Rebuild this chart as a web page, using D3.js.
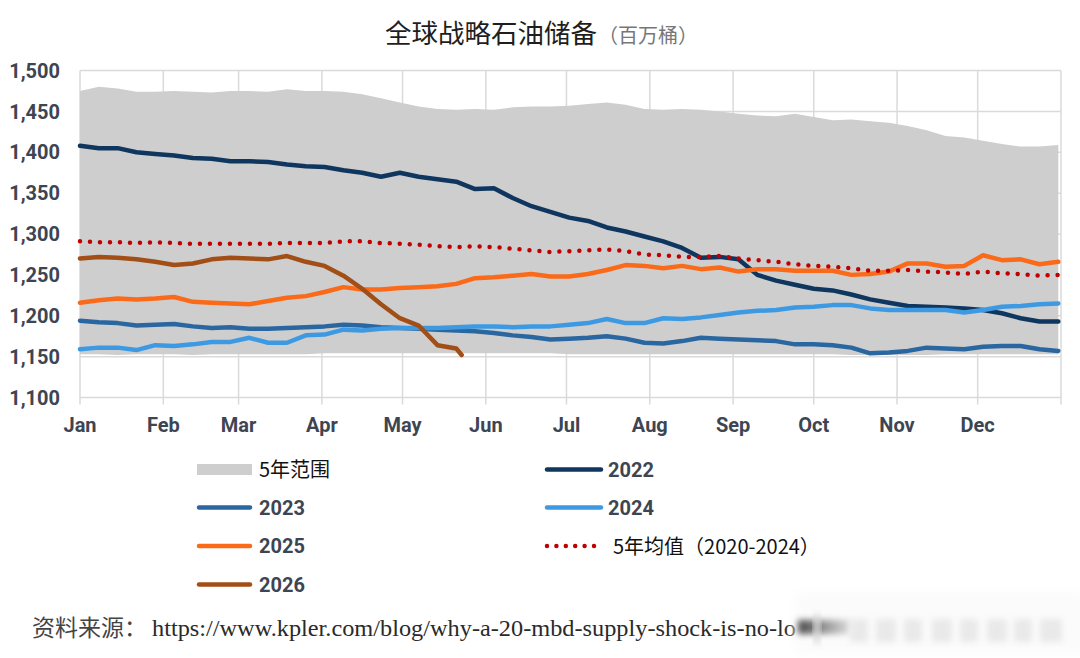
<!DOCTYPE html>
<html>
<head>
<meta charset="utf-8">
<script src="https://cdn.jsdelivr.net/npm/d3@7"></script>
<style>
  html, body { margin: 0; padding: 0; background: #fff; }
  svg { display: block; }
</style>
</head>
<body>
<div id="chart"></div>
<script>
// weekly samples, day-of-year 0,7,...,364
const weekDays = d3.range(0, 365, 7);

const rangeUpper = [1475, 1480, 1478, 1474, 1474, 1475, 1474, 1473, 1475, 1475,
  1474, 1477, 1475, 1475, 1474, 1471, 1466, 1461, 1456, 1453,
  1452, 1453, 1452, 1455, 1456, 1456, 1457, 1459, 1461, 1458,
  1453, 1452, 1453, 1452, 1450, 1447, 1445, 1444, 1447, 1443,
  1439, 1440, 1438, 1436, 1432, 1427, 1420, 1418, 1414, 1410,
  1407, 1407, 1409];
const rangeLower = [1153, 1153, 1152, 1153, 1153, 1153, 1152, 1153, 1153, 1153,
  1153, 1153, 1153, 1154, 1154, 1154, 1154, 1154, 1154, 1154,
  1154, 1154, 1154, 1154, 1154, 1154, 1153, 1153, 1153, 1153,
  1153, 1153, 1153, 1153, 1153, 1153, 1153, 1153, 1153, 1153,
  1153, 1152, 1152, 1152, 1152, 1152, 1153, 1153, 1153, 1153,
  1153, 1153, 1153];

const y2022 = [1408, 1405, 1405, 1400, 1398, 1396, 1393, 1392, 1389, 1389,
  1388, 1385, 1383, 1382, 1378, 1375, 1370, 1375, 1370, 1367,
  1364, 1355, 1356, 1344, 1334, 1327, 1320, 1316, 1308, 1303,
  1297, 1291, 1283, 1271, 1272, 1269, 1250, 1243, 1238, 1233,
  1231, 1226, 1220, 1216, 1212, 1211, 1210, 1209, 1207, 1203,
  1197, 1193, 1193];
const y2023 = [1194, 1192, 1191, 1188, 1189, 1190, 1187, 1185, 1186, 1184,
  1184, 1185, 1186, 1187, 1189, 1188, 1186, 1185, 1184, 1183,
  1182, 1181, 1179, 1176, 1174, 1171, 1172, 1173, 1175, 1172,
  1167, 1166, 1169, 1173, 1172, 1171, 1170, 1169, 1165, 1165,
  1164, 1161, 1154, 1155, 1157, 1161, 1160, 1159, 1162, 1163,
  1163, 1159, 1157];
const y2024 = [1159, 1161, 1161, 1158, 1164, 1163, 1165, 1168, 1168, 1173,
  1167, 1167, 1176, 1177, 1183, 1182, 1184, 1185, 1185, 1185,
  1186, 1187, 1187, 1186, 1187, 1187, 1189, 1191, 1196, 1191,
  1191, 1197, 1196, 1198, 1201, 1204, 1206, 1207, 1210, 1211,
  1213, 1213, 1209, 1207, 1207, 1207, 1207, 1204, 1207, 1211,
  1212, 1214, 1215];
const y2025 = [1216, 1219, 1221, 1220, 1221, 1223, 1217, 1216, 1215, 1214,
  1218, 1222, 1224, 1229, 1235, 1232, 1232, 1234, 1235, 1236,
  1239, 1246, 1247, 1249, 1251, 1248, 1248, 1251, 1256, 1262,
  1261, 1258, 1261, 1257, 1259, 1254, 1257, 1257, 1255, 1255,
  1255, 1250, 1251, 1254, 1264, 1264, 1260, 1261, 1274, 1268,
  1269, 1263, 1266];
const yAvg = [1291, 1290, 1290, 1289, 1290, 1289, 1288, 1288, 1288, 1288,
  1288, 1289, 1289, 1289, 1291, 1291, 1289, 1288, 1287, 1285,
  1284, 1285, 1284, 1282, 1280, 1278, 1279, 1280, 1281, 1279,
  1275, 1274, 1272, 1272, 1273, 1270, 1268, 1266, 1263, 1261,
  1260, 1258, 1255, 1255, 1256, 1254, 1253, 1251, 1254, 1252,
  1251, 1249, 1250];
// 2026 runs only to late May
const y2026 = [1270, 1272, 1271, 1269, 1266, 1262, 1264, 1269, 1271, 1270,
  1269, 1273, 1266, 1261, 1249, 1233, 1214, 1197, 1188, 1164, 1160];
const last2026Day = 142;
const last2026Value = 1152;

const yTicks = [1100, 1150, 1200, 1250, 1300, 1350, 1400, 1450, 1500];

const width = 1080;
const height = 658;
const margin = { top: 70.5, right: 19, bottom: 260.5, left: 80 };
const fontNum = "Roboto, 'Liberation Sans', Arial, sans-serif";
const fontCJK = "'Noto Sans CJK SC', 'Noto Sans', sans-serif";
const axisColor = "#3e4552";
const gridColor = "#dadada";

const yearStart = new Date(2021, 0, 1);
const yearEnd = new Date(2022, 0, 1);
const toDate = d => d3.timeDay.offset(yearStart, d);

const x = d3.scaleTime()
  .domain([yearStart, yearEnd])
  .range([margin.left, width - margin.right]);
const y = d3.scaleLinear()
  .domain([1100, 1500])
  .range([height - margin.bottom, margin.top]);

const svg = d3.select("#chart")
  .append("svg")
  .attr("width", width)
  .attr("height", height);

// Title
const title = svg.append("text")
  .attr("x", 385)
  .attr("y", 43)
  .attr("font-family", fontCJK);
title.append("tspan")
  .attr("font-size", 26.5)
  .attr("fill", "#1e1e1e")
  .text("全球战略石油储备");
title.append("tspan")
  .attr("font-size", 20)
  .attr("fill", "#777")
  .attr("dx", 1)
  .text("（百万桶）");

// Gridlines
const grid = svg.append("g");
grid.selectAll("line.h")
  .data(yTicks)
  .join("line")
  .attr("class", "h")
  .attr("x1", margin.left)
  .attr("x2", width - margin.right)
  .attr("y1", d => y(d))
  .attr("y2", d => y(d))
  .attr("stroke", gridColor)
  .attr("stroke-width", 1.5);

const monthTicks = d3.timeMonth.range(yearStart, yearEnd);
grid.selectAll("line.v")
  .data(monthTicks.concat([yearEnd]))
  .join("line")
  .attr("class", "v")
  .attr("x1", d => x(d))
  .attr("x2", d => x(d))
  .attr("y1", margin.top)
  .attr("y2", height - margin.bottom + 7)
  .attr("stroke", gridColor)
  .attr("stroke-width", 1.5);

// 5-year range
const band = weekDays.map((d, i) => ({ day: d, lo: rangeLower[i], hi: rangeUpper[i] }));
svg.append("path")
  .datum(band)
  .attr("fill", "#cfcecf")
  .attr("d", d3.area()
    .x(d => x(toDate(d.day)))
    .y0(d => y(d.lo))
    .y1(d => y(d.hi)));

// Lines
const pts2026 = y2026.map((v, i) => ({ day: weekDays[i], value: v }))
  .concat([{ day: last2026Day, value: last2026Value }]);

const series = [
  { name: "2022", color: "#0f365f", values: y2022.map((v, i) => ({ day: weekDays[i], value: v })) },
  { name: "2023", color: "#2a67a0", values: y2023.map((v, i) => ({ day: weekDays[i], value: v })) },
  { name: "2024", color: "#3d9ae2", values: y2024.map((v, i) => ({ day: weekDays[i], value: v })) },
  { name: "2025", color: "#fa6a18", values: y2025.map((v, i) => ({ day: weekDays[i], value: v })) },
  { name: "avg", color: "#c00000", dotted: true, values: yAvg.map((v, i) => ({ day: weekDays[i], value: v })) },
  { name: "2026", color: "#a24e17", values: pts2026 }
];

const line = d3.line()
  .x(d => x(toDate(d.day)))
  .y(d => y(d.value));

svg.append("g")
  .attr("fill", "none")
  .selectAll("path")
  .data(series)
  .join("path")
  .attr("d", d => line(d.values))
  .attr("stroke", d => d.color)
  .attr("stroke-width", 4.5)
  .attr("stroke-linecap", "round")
  .attr("stroke-linejoin", "round")
  .attr("stroke-dasharray", d => d.dotted ? "0 10" : null);

// Axis labels
svg.append("g")
  .selectAll("text")
  .data(yTicks)
  .join("text")
  .attr("x", 60)
  .attr("y", d => y(d))
  .attr("dy", "0.36em")
  .attr("text-anchor", "end")
  .attr("font-family", fontNum)
  .attr("font-weight", "bold")
  .attr("font-size", 20)
  .attr("fill", axisColor)
  .text(d => d3.format(",")(d));

svg.append("g")
  .selectAll("text")
  .data(monthTicks)
  .join("text")
  .attr("x", d => x(d))
  .attr("y", 432)
  .attr("text-anchor", "middle")
  .attr("font-family", fontNum)
  .attr("font-weight", "bold")
  .attr("font-size", 20)
  .attr("fill", axisColor)
  .text(d3.timeFormat("%b"));

// Legend
const legendItems = [
  { label: "5年范围", kind: "box", color: "#cfcecf", col: 0, row: 0 },
  { label: "2022", kind: "line", color: "#0f365f", col: 1, row: 0 },
  { label: "2023", kind: "line", color: "#2a67a0", col: 0, row: 1 },
  { label: "2024", kind: "line", color: "#3d9ae2", col: 1, row: 1 },
  { label: "2025", kind: "line", color: "#fa6a18", col: 0, row: 2 },
  { label: "5年均值（2020-2024）", kind: "dots", color: "#c00000", col: 1, row: 2 },
  { label: "2026", kind: "line", color: "#a24e17", col: 0, row: 3 }
];
const legendX = [197, 545];
const legendY = [469.5, 507.5, 546, 584.5];

const lg = svg.append("g")
  .selectAll("g")
  .data(legendItems)
  .join("g")
  .attr("transform", d => `translate(${legendX[d.col]},${legendY[d.row]})`);

lg.filter(d => d.kind === "box").append("rect")
  .attr("x", 0).attr("y", -5.5).attr("width", 55).attr("height", 11)
  .attr("fill", d => d.color);
lg.filter(d => d.kind === "line").append("line")
  .attr("x1", 2).attr("x2", d => d.col === 0 ? 53 : 56)
  .attr("stroke", d => d.color)
  .attr("stroke-width", 4.5)
  .attr("stroke-linecap", "round");
lg.filter(d => d.kind === "dots").append("line")
  .attr("x1", 2).attr("x2", 50)
  .attr("stroke", d => d.color)
  .attr("stroke-width", 4.5)
  .attr("stroke-linecap", "round")
  .attr("stroke-dasharray", "0 9.4");

lg.append("text")
  .attr("x", d => d.kind === "dots" ? 68 : (d.col === 0 ? 62 : 63))
  .attr("dy", d => d.kind === "line" ? "0.36em" : "0.38em")
  .attr("font-family", d => d.kind === "line" ? fontNum : fontCJK)
  .attr("font-weight", d => d.kind === "line" ? "bold" : "normal")
  .attr("font-size", 20)
  .attr("fill", d => d.kind === "line" ? axisColor : "#111")
  .text(d => d.label);

// Source line
const src = svg.append("text")
  .attr("x", 32)
  .attr("y", 636)
  .attr("font-size", 23)
  .attr("fill", "#2a2a2a");
src.append("tspan")
  .attr("font-family", fontCJK)
  .attr("fill", "#444")
  .text("资料来源：");
src.append("tspan")
  .attr("font-family", "'Liberation Serif', 'DejaVu Serif', serif")
  .attr("x", 152)
  .attr("textLength", 644)
  .attr("lengthAdjust", "spacingAndGlyphs")
  .text("https://www.kpler.com/blog/why-a-20-mbd-supply-shock-is-no-lo");

// Blurred watermark over the end of the source line
const defs = svg.append("defs");
defs.append("filter").attr("id", "blur6")
  .attr("x", "-20%").attr("y", "-50%").attr("width", "140%").attr("height", "200%")
  .append("feGaussianBlur").attr("stdDeviation", 6);
defs.append("filter").attr("id", "blur3")
  .attr("x", "-30%").attr("y", "-50%").attr("width", "160%").attr("height", "200%")
  .append("feGaussianBlur").attr("stdDeviation", 3);
const grad = defs.append("linearGradient").attr("id", "wmGrad");
grad.append("stop").attr("offset", "0%").attr("stop-color", "#4a4a4a");
grad.append("stop").attr("offset", "100%").attr("stop-color", "#dcdcdc");

const wm = svg.append("g");
wm.append("rect")
  .attr("x", 795).attr("y", 592).attr("width", 290).attr("height", 62)
  .attr("fill", "#fbfbfb")
  .attr("filter", "url(#blur6)");
wm.append("rect")
  .attr("x", 798).attr("y", 620).attr("width", 52).attr("height", 14)
  .attr("fill", "url(#wmGrad)")
  .attr("filter", "url(#blur3)");
wm.append("rect")
  .attr("x", 814).attr("y", 614).attr("width", 6).attr("height", 30)
  .attr("fill", "#dcdcdc")
  .attr("filter", "url(#blur3)");
[[850, 18], [876, 20], [904, 18], [932, 20], [960, 18], [987, 20], [1014, 18], [1040, 22]]
  .forEach(([gx, gw]) => {
    wm.append("rect")
      .attr("x", gx).attr("y", 619).attr("width", gw).attr("height", 23)
      .attr("fill", "#e9e9e9")
      .attr("filter", "url(#blur3)");
  });
</script>
</body>
</html>
